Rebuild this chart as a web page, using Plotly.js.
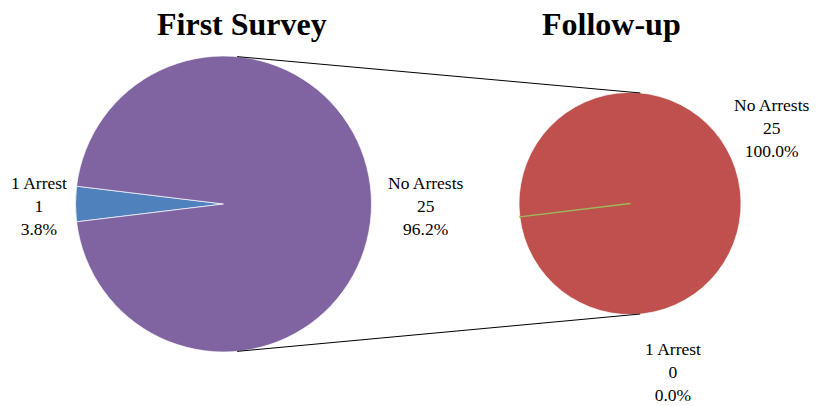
<!DOCTYPE html>
<html>
<head>
<meta charset="utf-8">
<script src="https://cdn.plot.ly/plotly-3.0.1.min.js"></script>
<style>
  html, body { margin: 0; padding: 0; background: #ffffff; }
  #chart { width: 817px; height: 406px; }
</style>
</head>
<body>
<div id="chart"></div>
<script>
// ---- data ----
const chartTitles = ["First Survey", "Follow-up"];
const firstLabels = ["1 Arrest", "No Arrests"];
const firstValues = [1, 25];
const followLabels = ["No Arrests", "1 Arrest"];
const followValues = [25, 0];

// ---- geometry / style ----
const W = 817, H = 406;
const FONT = "'Liberation Serif', 'Times New Roman', serif";
const leftPie = { cx: 223.5, cy: 204, r: 148 };
const rightPie = { cx: 630, cy: 203.5, r: 111 };

function domainOf(p) {
  return {
    x: [(p.cx - p.r) / W, (p.cx + p.r) / W],
    y: [1 - (p.cy + p.r) / H, 1 - (p.cy - p.r) / H]
  };
}
const px = x => x / W;
const py = y => 1 - y / H;

function pctText(v, tot) { return (v / tot * 100).toFixed(1) + "%"; }
const sumOf = a => a.reduce((s, v) => s + v, 0);
const firstTotal = sumOf(firstValues);
const followTotal = sumOf(followValues);

// rotation so that the "1 Arrest" wedge is centred at 9 o'clock
const firstShare = firstValues[0] / firstTotal;
const rot = 270 - 360 * firstShare / 2;

const traces = [
  {
    type: "pie",
    labels: firstLabels,
    values: firstValues,
    sort: false,
    direction: "clockwise",
    rotation: rot,
    domain: domainOf(leftPie),
    marker: { colors: ["#4F81BD", "#8064A2"], line: { color: "#ffffff", width: 0.7 } },
    textinfo: "none",
    hoverinfo: "label+value+percent",
    showlegend: false
  },
  {
    type: "pie",
    labels: followLabels,
    values: followValues,
    sort: false,
    direction: "counterclockwise",
    rotation: rot,
    domain: domainOf(rightPie),
    marker: { colors: ["#C0504D", "#9BBB59"], line: { color: ["#ffffff", "#9BBB59"], width: [0.7, 1.5] } },
    textinfo: "none",
    hoverinfo: "label+value+percent",
    showlegend: false
  }
];

function lbl(label, v, tot) { return label + "<br>" + v + "<br>" + pctText(v, tot); }
const labelFont = { family: FONT, size: 17.5, color: "#000000" };
const titleFont = { family: FONT, size: 32, color: "#000000" };

const annotations = [
  { text: "<b>" + chartTitles[0] + "</b>", x: px(242), y: py(24), font: titleFont },
  { text: "<b>" + chartTitles[1] + "</b>", x: px(611), y: py(24), font: titleFont },
  { text: lbl(firstLabels[0], firstValues[0], firstTotal), x: px(39), y: py(206), font: labelFont },
  { text: lbl(firstLabels[1], firstValues[1], firstTotal), x: px(426), y: py(206), font: labelFont },
  { text: lbl(followLabels[0], followValues[0], followTotal), x: px(772), y: py(128), font: labelFont },
  { text: lbl(followLabels[1], followValues[1], followTotal), x: px(673), y: py(372), font: labelFont }
].map(a => Object.assign({ xref: "paper", yref: "paper", xanchor: "center", yanchor: "middle",
                            align: "center", showarrow: false }, a));

// connector lines between the two pies
const a = 5.3 * Math.PI / 180;
function pt(p, top) {
  return [p.cx + p.r * Math.sin(a), top ? p.cy - p.r * Math.cos(a) : p.cy + p.r * Math.cos(a)];
}
const shapes = [true, false].map(top => {
  const p1 = pt(leftPie, top), p2 = pt(rightPie, top);
  return { type: "line", xref: "paper", yref: "paper",
           x0: px(p1[0]), y0: py(p1[1]), x1: px(p2[0]), y1: py(p2[1]),
           line: { color: "#000000", width: 1 } };
});

const layout = {
  width: W, height: H,
  margin: { l: 0, r: 0, t: 0, b: 0 },
  paper_bgcolor: "#ffffff",
  plot_bgcolor: "#ffffff",
  font: { family: FONT },
  showlegend: false,
  annotations: annotations,
  shapes: shapes
};

Plotly.newPlot("chart", traces, layout, { displayModeBar: false, staticPlot: true });
</script>
</body>
</html>
